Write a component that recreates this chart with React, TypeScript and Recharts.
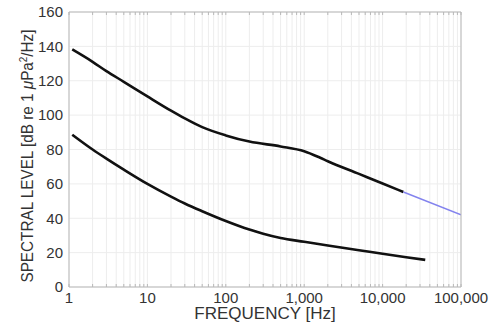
import React from "react";
import { LineChart, Line, XAxis, YAxis, CartesianGrid } from "recharts";

// upper curve (black)
const upperFreq = [1.1, 2, 3, 5, 10, 20, 30, 50, 100, 200, 500, 1000, 1600, 2000, 5000, 10000, 18400];
const upperLevel = [138.2, 131, 125.6, 119.4, 110.9, 102.6, 98.1, 93, 88.2, 84.6, 81.8, 79, 75.2, 73.2, 65.8, 60.2, 55.3];

// extension of the upper curve (blue)
const extFreq = [18400, 100000];
const extLevel = [55.3, 42];

// lower curve (black)
const lowerFreq = [1.1, 2, 3, 5, 10, 20, 30, 50, 100, 200, 300, 500, 1000, 2000, 5000, 10000, 20000, 35000];
const lowerLevel = [88.6, 80, 74.7, 68.3, 60, 52.6, 48.6, 44.1, 38.4, 33.4, 31, 28.5, 26.3, 24.1, 21.4, 19.3, 17.3, 15.8];

const decades = [1, 10, 100, 1000, 10000, 100000];
const minorMult = [2, 3, 4, 5, 6, 7, 8, 9];
const logTicks = [
  ...decades,
  ...decades.slice(0, -1).flatMap((d) => minorMult.map((m) => m * d)),
].sort((a, b) => a - b);
const levelTicks = [0, 20, 40, 60, 80, 100, 120, 140, 160];

const toRows = (fs: number[], vs: number[]) => fs.map((f, i) => ({ f, v: vs[i] }));
const upperData = toRows(upperFreq, upperLevel);
const extData = toRows(extFreq, extLevel);
const lowerData = toRows(lowerFreq, lowerLevel);

const fmtFreq = (v: number) => (decades.includes(v) ? v.toLocaleString("en-US") : "");

const FONT = '"Liberation Sans", Arial, Helvetica, sans-serif';
const TEXT = "#333";
const FRAME = "#b8b8b8";

const YTitle = () => {
  const cx = 33;
  const cy = 156;
  return (
    <text
      x={cx}
      y={cy}
      transform={`rotate(-90, ${cx}, ${cy})`}
      textAnchor="middle"
      fontSize={17}
      fill={TEXT}
      fontFamily={FONT}
      textLength={253}
      lengthAdjust="spacingAndGlyphs"
    >
      SPECTRAL LEVEL [dB re 1 <tspan fontStyle="italic">μ</tspan>Pa
      <tspan dy={-6} fontSize={11}>2</tspan>
      <tspan dy={6}>/Hz]</tspan>
    </text>
  );
};

const XTitle = (props: any) => {
  const vb = props.viewBox || { x: 69, y: 287, width: 392 };
  return (
    <text
      x={vb.x + vb.width / 2}
      y={vb.y + 32}
      textAnchor="middle"
      fontSize={17}
      fill={TEXT}
      fontFamily={FONT}
    >
      FREQUENCY [Hz]
    </text>
  );
};

export default function App() {
  return (
    <div style={{ position: "absolute", left: 0, top: 0, fontFamily: FONT, background: "#fff" }}>
      <LineChart width={503} height={324} margin={{ top: 0, right: 0, bottom: 0, left: 0 }}>
        <CartesianGrid stroke="#ededed" strokeWidth={1} />
        <XAxis
          dataKey="f"
          type="number"
          scale="log"
          domain={[1, 100000]}
          allowDataOverflow
          ticks={logTicks}
          interval={0}
          tickFormatter={fmtFreq}
          tickSize={-3}
          tickMargin={8}
          height={37}
          stroke={FRAME}
          tick={{ fontSize: 15, fill: TEXT }}
          label={<XTitle />}
        />
        <XAxis
          xAxisId="top"
          orientation="top"
          dataKey="f"
          type="number"
          scale="log"
          domain={[1, 100000]}
          allowDataOverflow
          ticks={logTicks}
          interval={0}
          tickFormatter={() => ""}
          tickSize={-3}
          height={12}
          stroke={FRAME}
        />
        <YAxis
          type="number"
          domain={[0, 160]}
          ticks={levelTicks}
          interval={0}
          width={69}
          tickSize={0}
          tickMargin={6}
          stroke={FRAME}
          tick={{ fontSize: 15, fill: TEXT }}
          label={<YTitle />}
        />
        <YAxis
          yAxisId="right"
          orientation="right"
          type="number"
          domain={[0, 160]}
          ticks={levelTicks}
          interval={0}
          width={42}
          tickSize={-4}
          tickFormatter={() => ""}
          stroke={FRAME}
        />
        <Line
          data={lowerData}
          dataKey="v"
          type="monotone"
          stroke="#111"
          strokeWidth={2.6}
          dot={false}
          isAnimationActive={false}
        />
        <Line
          data={upperData}
          dataKey="v"
          type="monotone"
          stroke="#111"
          strokeWidth={2.6}
          dot={false}
          isAnimationActive={false}
        />
        <Line
          data={extData}
          dataKey="v"
          type="linear"
          stroke="#8383ee"
          strokeWidth={1.5}
          dot={false}
          isAnimationActive={false}
        />
      </LineChart>
    </div>
  );
}
